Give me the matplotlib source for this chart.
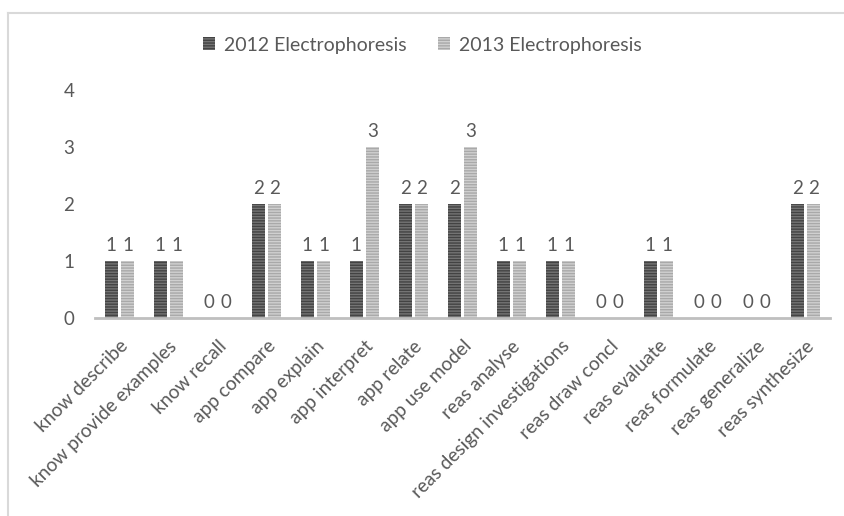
import numpy as np
import matplotlib
matplotlib.use("Agg")
import matplotlib.pyplot as plt
from matplotlib.lines import Line2D

categories = ["know describe", "know provide examples", "know recall", "app compare",
              "app explain", "app interpret", "app relate", "app use model",
              "reas analyse", "reas design investigations", "reas draw concl",
              "reas evaluate", "reas formulate", "reas generalize", "reas synthesize"]
series_names = ["2012 Electrophoresis", "2013 Electrophoresis"]
values_2012 = [1, 1, 0, 2, 1, 1, 2, 2, 1, 1, 0, 1, 0, 0, 2]
values_2013 = [1, 1, 0, 2, 1, 3, 2, 3, 1, 1, 0, 1, 0, 0, 2]
y_ticks = [0, 1, 2, 3, 4]

text_color = "#595959"
plt.rcParams["font.family"] = ["Lato", "DejaVu Sans"]
plt.rcParams["hatch.linewidth"] = 1.0

fig = plt.figure(figsize=(8.45, 5.16), dpi=100)
ax = fig.add_axes([95 / 845, 1 - 318 / 516, 735 / 845, 228 / 516])

x = np.arange(len(categories))
w = 0.27
off = 0.165
styles = [dict(facecolor="#747474", edgecolor="#434343"),
          dict(facecolor="#d0d0d0", edgecolor="#a9a9a9")]

for vals, dx, st, name in zip([values_2012, values_2013], [-off, off], styles, series_names):
    bars = ax.bar(x + dx, vals, width=w, hatch="------", linewidth=0, label=name, **st)
    for b, v in zip(bars, vals):
        ax.text(b.get_x() + b.get_width() / 2, v + 0.12, str(v), ha="center", va="bottom",
                fontsize=13.5, color=text_color, clip_on=False)

ax.set_xlim(-0.5, len(categories) - 0.5)
ax.set_ylim(0, 4)
ax.set_yticks(y_ticks)
ax.tick_params(axis="y", length=0, pad=15, labelsize=13.5, labelcolor=text_color)
ax.set_xticks(x)
ax.set_xticklabels(categories, rotation=45, ha="right", rotation_mode="anchor",
                   fontsize=13.8, color=text_color)
ax.tick_params(axis="x", length=0, pad=14)
for s in ("top", "right", "left"):
    ax.spines[s].set_visible(False)
ax.spines["bottom"].set_color("#bfbfbf")
ax.spines["bottom"].set_linewidth(2)

leg = ax.legend(loc="center", bbox_to_anchor=(0.5, (516 - 45) / 516), bbox_transform=fig.transFigure,
                ncol=2, frameon=False, fontsize=14, handlelength=0.6, handleheight=0.6,
                handletextpad=0.5, columnspacing=1.6)
for t in leg.get_texts():
    t.set_color(text_color)

# thin border along the top and left edge of the chart area
fig.add_artist(Line2D([8 / 845, 8 / 845], [0, 1 - 13 / 516], color="#d9d9d9", lw=1.5))
fig.add_artist(Line2D([8 / 845, 1], [1 - 13 / 516, 1 - 13 / 516], color="#d9d9d9", lw=1.5))

fig.savefig("out.png", dpi=100)
